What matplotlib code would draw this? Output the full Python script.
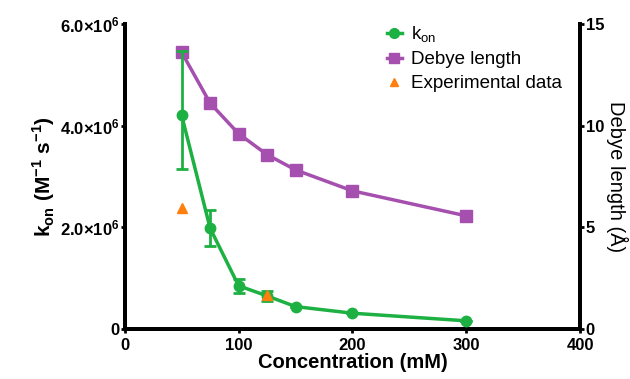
import numpy as np
import matplotlib.pyplot as plt
from matplotlib.lines import Line2D
from matplotlib.ticker import FuncFormatter

plt.rcParams['font.family'] = ['Liberation Sans', 'DejaVu Sans']

# data
conc = [50, 75, 100, 125, 150, 200, 300]
kon = [4.2e6, 1.98e6, 0.85e6, 0.65e6, 0.44e6, 0.31e6, 0.16e6]
kon_err_lo = [1.06e6, 0.35e6, 0.14e6, 0.10e6, 0, 0, 0]
kon_err_hi = [1.26e6, 0.36e6, 0.13e6, 0.10e6, 0, 0, 0]
debye = [13.6, 11.1, 9.6, 8.57, 7.82, 6.79, 5.56]
exp_conc = [50, 125]
exp_kon = [2.38e6, 0.66e6]

green = '#1db042'
purple = '#a54fae'
orange = '#ff7f0e'

fig = plt.figure(figsize=(6.3, 3.79), dpi=100)
ax = fig.add_axes([0.198, 0.132, 0.723, 0.805])
ax2 = ax.twinx()

ax2.plot(conc, debye, color=purple, lw=2.5, marker='s', ms=8, zorder=2)
ax.errorbar(conc, kon, yerr=[kon_err_lo, kon_err_hi], color=green, lw=2.5,
            marker='o', ms=7.5, capsize=4, capthick=2, elinewidth=2, zorder=3)
ax.plot(exp_conc, exp_kon, ls='none', marker='^', ms=7, color=orange, zorder=4)

# put kon axis above debye axis
ax.set_zorder(ax2.get_zorder() + 1)
ax.patch.set_visible(False)

ax.set_xlim(0, 400)
ax.set_ylim(0, 6e6)
ax2.set_ylim(0, 15)
ax.set_xticks([0, 100, 200, 300, 400])
ax.set_yticks([0, 2e6, 4e6, 6e6])
ax2.set_yticks([0, 5, 10, 15])


def fmt(v, pos):
    if v == 0:
        return '0'
    return r'%.1f$\mathregular{\times 10^{6}}$' % (v / 1e6)


ax.yaxis.set_major_formatter(FuncFormatter(fmt))

for a in (ax, ax2):
    for s in a.spines.values():
        s.set_linewidth(2.8)
    a.spines['top'].set_visible(False)
    a.tick_params(width=2, length=3, labelsize=12, pad=1)
    for lab in a.get_xticklabels() + a.get_yticklabels():
        lab.set_fontweight('bold')
ax.tick_params(axis='x', pad=3.5)

ax.set_xlabel('Concentration (mM)', fontsize=14.5, fontweight='bold', labelpad=0)
ax.set_ylabel(r'k$_{\mathregular{on}}$ (M$^{\mathregular{-1}}$ s$^{\mathregular{-1}}$)',
              fontsize=15, fontweight='bold', labelpad=2)
ax2.set_ylabel('Debye length (Å)', fontsize=14.5, rotation=270, labelpad=17)

handles = [
    Line2D([], [], color=green, lw=2.5, marker='o', ms=7),
    Line2D([], [], color=purple, lw=2.5, marker='s', ms=7.5),
    Line2D([], [], ls='none', color=orange, marker='^', ms=6),
]
labels = [r'k$_{\mathregular{on}}$', 'Debye length', 'Experimental data']
ax.legend(handles, labels, loc='upper left', bbox_to_anchor=(0.55, 1.035),
          frameon=False, fontsize=13.5, handlelength=0.8, handletextpad=0.5,
          labelspacing=0.35, borderaxespad=0.2)

fig.savefig('out.png', dpi=100)
